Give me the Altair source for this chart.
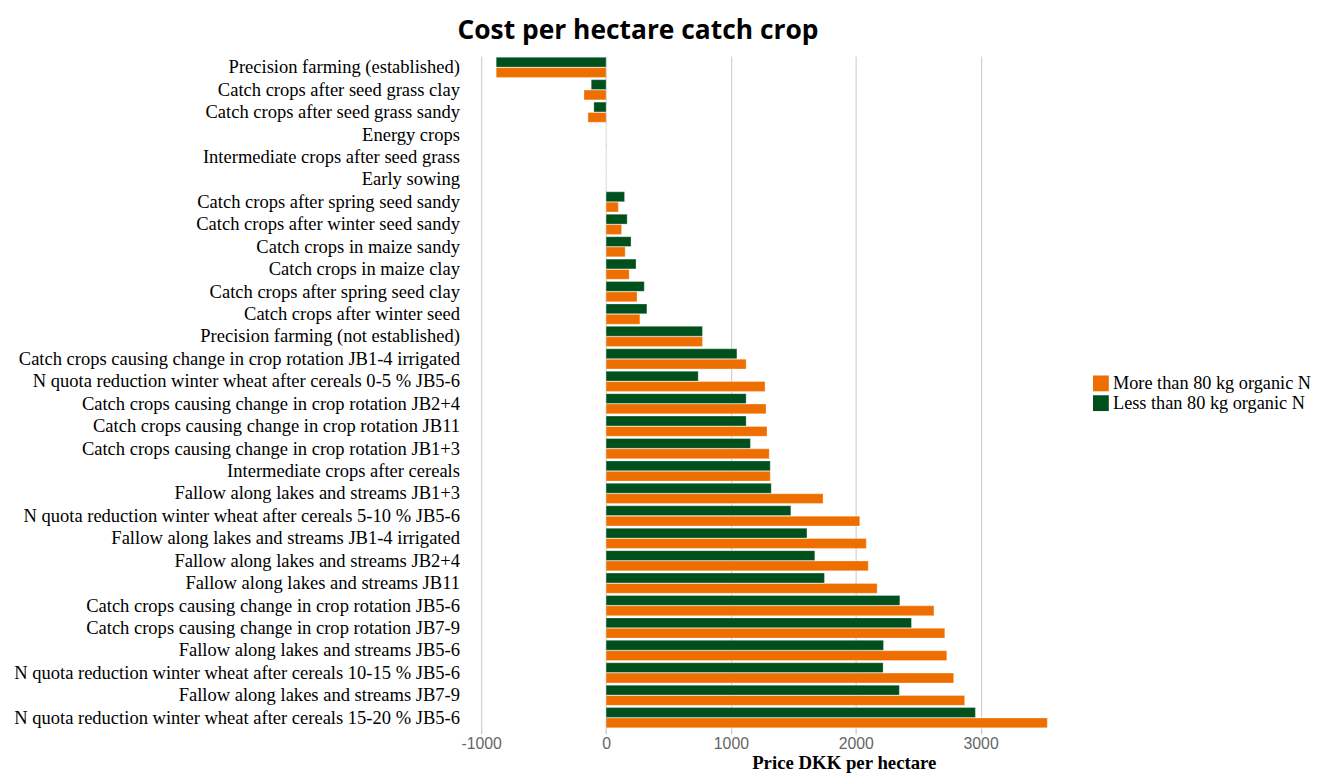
import altair as alt
import pandas as pd

categories = [
    "Precision farming (established)",
    "Catch crops after seed grass clay",
    "Catch crops after seed grass sandy",
    "Energy crops",
    "Intermediate crops after seed grass",
    "Early sowing",
    "Catch crops after spring seed sandy",
    "Catch crops after winter seed sandy",
    "Catch crops in maize sandy",
    "Catch crops in maize clay",
    "Catch crops after spring seed clay",
    "Catch crops after winter seed",
    "Precision farming (not established)",
    "Catch crops causing change in crop rotation JB1-4 irrigated",
    "N quota reduction winter wheat after cereals 0-5 % JB5-6",
    "Catch crops causing change in crop rotation JB2+4",
    "Catch crops causing change in crop rotation JB11",
    "Catch crops causing change in crop rotation JB1+3",
    "Intermediate crops after cereals",
    "Fallow along lakes and streams JB1+3",
    "N quota reduction winter wheat after cereals 5-10 % JB5-6",
    "Fallow along lakes and streams JB1-4 irrigated",
    "Fallow along lakes and streams JB2+4",
    "Fallow along lakes and streams JB11",
    "Catch crops causing change in crop rotation JB5-6",
    "Catch crops causing change in crop rotation JB7-9",
    "Fallow along lakes and streams JB5-6",
    "N quota reduction winter wheat after cereals 10-15 % JB5-6",
    "Fallow along lakes and streams JB7-9",
    "N quota reduction winter wheat after cereals 15-20 % JB5-6",
]

more_than_80 = [-880, -177, -145, 0, 0, 0, 98, 124, 153, 185, 248, 271, 772,
                1122, 1273, 1281, 1289, 1307, 1315, 1738, 2032, 2084, 2100,
                2171, 2626, 2713, 2729, 2784, 2872, 3534]
less_than_80 = [-880, -119, -98, 0, 0, 0, 148, 169, 200, 240, 306, 327, 772,
                1048, 738, 1122, 1122, 1156, 1315, 1323, 1480, 1609, 1672,
                1749, 2353, 2446, 2222, 2219, 2349, 2958]

series_names = ["More than 80 kg organic N", "Less than 80 kg organic N"]
series_colors = ["#EE6F00", "#00501E"]
x_ticks = [-1000, 0, 1000, 2000, 3000]

rows = []
for i, c in enumerate(categories):
    rows.append({"category": c, "series": series_names[0], "value": more_than_80[i], "pos": 1})
    rows.append({"category": c, "series": series_names[1], "value": less_than_80[i], "pos": 0})
df = pd.DataFrame(rows)

chart = alt.Chart(df).mark_bar(stroke="white", strokeWidth=0.5, strokeOpacity=0.6).encode(
    y=alt.Y("category:N", sort=categories,
            scale=alt.Scale(paddingInner=0.1, paddingOuter=0.05),
            axis=alt.Axis(title=None, domain=False, ticks=False, labelPadding=22,
                          labelFont="Liberation Serif", labelFontSize=18.75,
                          labelColor="#000", labelLimit=700)),
    yOffset=alt.YOffset("pos:O", scale=alt.Scale(paddingInner=0.05)),
    x=alt.X("value:Q",
            scale=alt.Scale(domain=[-1000, 3534], nice=False, zero=False),
            axis=alt.Axis(values=x_ticks, labelExpr="'' + datum.value",
                          title="Price DKK per hectare",
                          titleFont="Liberation Serif", titleFontSize=19, titleFontWeight="bold",
                          titleColor="#000", titleX=367, titleY=40, titleAlign="center",
                          titleBaseline="alphabetic",
                          labelFont="Liberation Sans", labelFontSize=16, labelColor="#666",
                          domain=False, tickColor="#bbb", tickSize=5,
                          gridColor="#c8c8c8", labelFlush=False)),
    color=alt.Color("series:N", sort=series_names,
                    scale=alt.Scale(domain=series_names, range=series_colors),
                    legend=alt.Legend(title=None, orient="none", legendX=618, legendY=322,
                                      symbolType="square", symbolSize=256,
                                      symbolStrokeWidth=0, labelFont="Liberation Serif",
                                      labelFontSize=18.5, labelColor="#000", rowPadding=1,
                                      symbolOffset=0, labelOffset=3, labelLimit=400)),
).properties(
    width=573,
    height=681,
    title=alt.TitleParams("Cost per hectare catch crop", font="Open Sans", fontSize=26.7,
                          fontWeight="bold", color="#000", anchor="start", frame="group",
                          dx=-24, offset=12),
).configure_view(stroke=None)

chart.save("out.html", embed_options={"renderer": "svg", "actions": False})
